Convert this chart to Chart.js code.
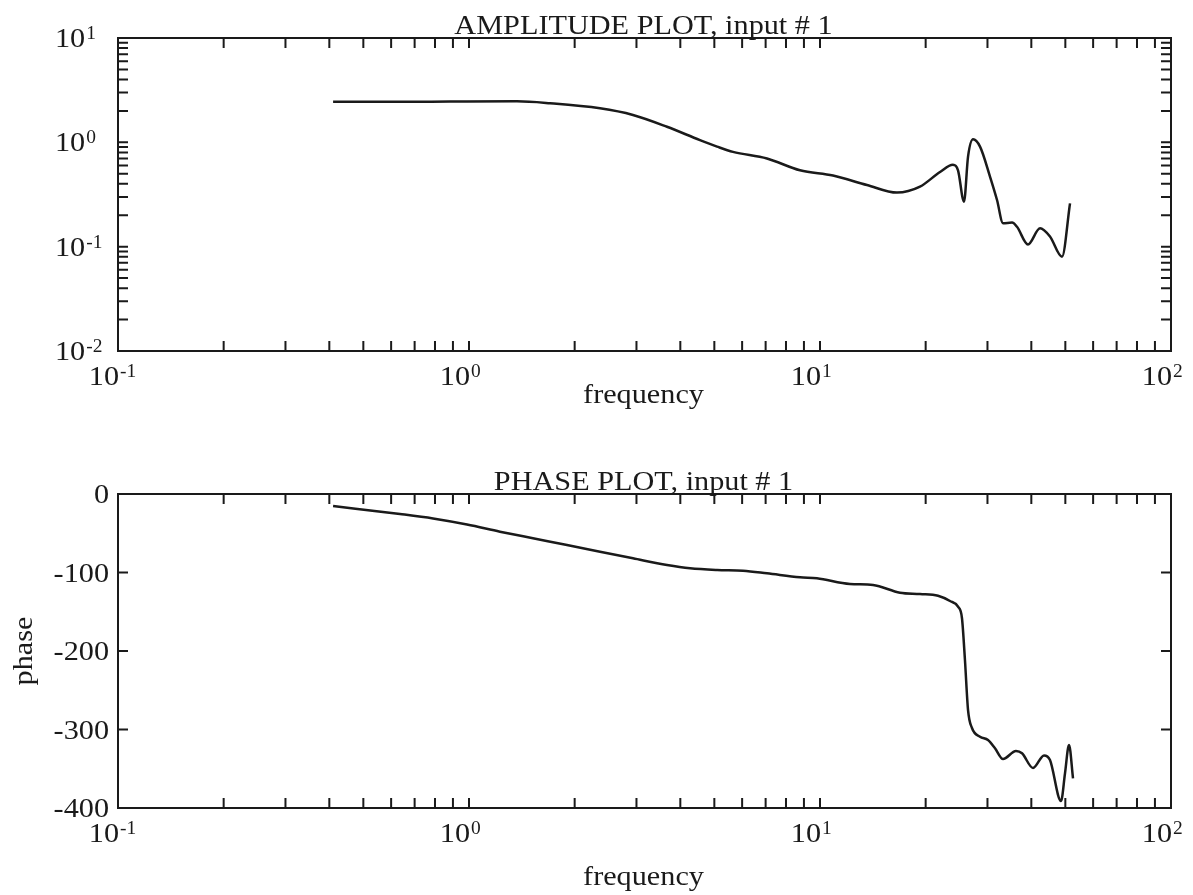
<!DOCTYPE html>
<html>
<head>
<meta charset="utf-8">
<script src="https://cdn.jsdelivr.net/npm/chart.js@4.4.1/dist/chart.umd.min.js"></script>
<style>
html,body{margin:0;padding:0;background:#fff;}
#wrap{position:relative;width:1193px;height:895px;overflow:hidden;}
canvas{position:absolute;left:0;}
</style>
</head>
<body>
<div id="wrap">
<canvas id="amp" width="1193" height="450" style="top:0px"></canvas>
<canvas id="ph" width="1193" height="445" style="top:450px"></canvas>
</div>
<script>
// ---------- data ----------
const ampFreq   = [0.410, 0.636, 0.883, 1.370, 1.701, 2.362, 2.932, 3.665, 4.55, 5.09, 5.65, 7.06, 8.77, 10.89, 13.61, 16.57, 19.27, 21.98, 23.92, 24.73, 25.72, 26.41, 27.29, 28.57, 30.50, 31.94, 33.22, 35.24, 36.41, 39.13, 42.36, 45.21, 48.92, 51.56];
const ampValues = [2.45, 2.45, 2.46, 2.47, 2.37, 2.12, 1.83, 1.41, 1.05, 0.91, 0.81, 0.70, 0.54, 0.48, 0.39, 0.33, 0.376, 0.52, 0.61, 0.54, 0.27, 0.73, 1.07, 0.91, 0.47, 0.28, 0.168, 0.170, 0.155, 0.105, 0.150, 0.125, 0.080, 0.260];

const phaseFreq   = [0.410, 0.636, 0.790, 0.987, 1.225, 1.521, 1.902, 2.362, 2.932, 3.665, 4.263, 5.09, 6.034, 7.06, 8.77, 9.80, 12.17, 14.16, 16.90, 19.27, 21.69, 23.46, 24.73, 25.38, 25.88, 26.41, 27.10, 28.57, 30.10, 31.52, 33.22, 36.17, 37.63, 40.45, 43.48, 45.21, 48.60, 49.89, 51.22, 52.58];
const phaseValues = [-15.3, -25.5, -31.2, -38.9, -48.0, -56.4, -65.0, -73.5, -81.9, -90.4, -94.6, -96.8, -97.7, -101.0, -106.1, -107.4, -114.6, -115.9, -125.7, -127.4, -129.6, -136.3, -143.6, -158.3, -211.5, -275.2, -298.1, -309.2, -313.4, -324.0, -337.6, -327.4, -330.3, -349.0, -333.1, -338.9, -391.1, -355.8, -319.7, -362.2];

const xTickValues  = [0.1, 1, 10, 100];
const xTickExps    = ['-1', '0', '1', '2'];
const ampTickValues = [10, 1, 0.1, 0.01];
const ampTickExps   = ['1', '0', '-1', '-2'];
const phaseTickValues = [0, -100, -200, -300, -400];
const phaseTickLabels = ['0', '-100', '-200', '-300', '-400'];

const ampTitle = 'AMPLITUDE PLOT, input # 1';
const phaseTitle = 'PHASE PLOT, input # 1';
const xAxisTitle = 'frequency';
const phaseAxisTitle = 'phase';

// ---------- drawing helpers ----------
const INK = '#1a1a1a';
const FONT = '"Liberation Serif", "Times New Roman", serif';
const SX = 1.08;     // horizontal stretch of the original lettering
const BIG = 28, SUP = 18;

function textW(ctx, s, size) {
  ctx.font = size + 'px ' + FONT;
  return ctx.measureText(s).width * SX;
}
function txt(ctx, s, x, y, size, align) {
  const w = textW(ctx, s, size);
  let left = x;
  if (align === 'center') left = x - w / 2;
  else if (align === 'right') left = x - w;
  ctx.save();
  ctx.font = size + 'px ' + FONT;
  ctx.textAlign = 'left';
  ctx.textBaseline = 'alphabetic';
  ctx.fillStyle = INK;
  ctx.translate(left, y);
  ctx.scale(SX, 1);
  ctx.fillText(s, 0, 0);
  ctx.restore();
  return w;
}
// "10" with a superscript exponent; baseLeft = left edge of "10"
function pow10(ctx, exp, baseLeft, y) {
  const wb = txt(ctx, '10', baseLeft, y, BIG, 'left');
  txt(ctx, exp, baseLeft + wb + 1, y - 8, SUP, 'left');
}

function decadeTicks(lo, hi) {
  const out = [];
  for (let e = Math.round(Math.log10(lo)); e < Math.round(Math.log10(hi)); e++)
    for (let m = 1; m <= 9; m++) out.push(m * Math.pow(10, e));
  return out.filter(v => v > lo * 1.0001 && v < hi * 0.9999);
}

const axesPlugin = {
  id: 'plotFrame',
  afterDraw(chart, args, o) {
    const {ctx, chartArea: a, scales: {x, y}} = chart;
    const TL = 10;
    ctx.save();
    ctx.strokeStyle = INK;
    ctx.lineWidth = 2;
    ctx.lineCap = 'butt';
    ctx.strokeRect(a.left, a.top, a.right - a.left, a.bottom - a.top);
    ctx.beginPath();
    decadeTicks(x.min, x.max).forEach(v => {
      const px = x.getPixelForValue(v);
      ctx.moveTo(px, a.bottom); ctx.lineTo(px, a.bottom - TL);
      ctx.moveTo(px, a.top); ctx.lineTo(px, a.top + TL);
    });
    const yt = o.logY ? decadeTicks(y.min, y.max) : o.yTicks.filter(v => v > y.min && v < y.max);
    yt.forEach(v => {
      const py = y.getPixelForValue(v);
      ctx.moveTo(a.left, py); ctx.lineTo(a.left + TL, py);
      ctx.moveTo(a.right, py); ctx.lineTo(a.right - TL, py);
    });
    ctx.stroke();
    ctx.restore();

    // x tick labels: "10" ends at the tick
    xTickValues.forEach((v, i) => {
      const px = x.getPixelForValue(v);
      const wb = textW(ctx, '10', BIG);
      pow10(ctx, xTickExps[i], px - wb + 1, a.bottom + 34);
    });
    // y tick labels
    if (o.logY) {
      ampTickValues.forEach((v, i) => {
        const py = y.getPixelForValue(v);
        pow10(ctx, ampTickExps[i], 55, py + 9);
      });
    } else {
      phaseTickValues.forEach((v, i) => {
        const py = y.getPixelForValue(v);
        txt(ctx, phaseTickLabels[i], 109, py + 9, BIG, 'right');
      });
    }
    // titles
    const cx = (a.left + a.right) / 2 - 1;
    txt(ctx, o.title, cx, a.top - 4.5, BIG, 'center');
    txt(ctx, xAxisTitle, cx, a.bottom + o.xTitleGap, BIG, 'center');
    if (o.yTitle) {
      ctx.save();
      ctx.translate(32, (a.top + a.bottom) / 2);
      ctx.rotate(-Math.PI / 2);
      txt(ctx, o.yTitle, 0, 0, BIG, 'center');
      ctx.restore();
    }
  }
};

function makeChart(id, freq, vals, yScale, pad, plotOpts) {
  return new Chart(document.getElementById(id), {
    type: 'line',
    data: {
      datasets: [{
        data: freq.map((f, i) => ({x: f, y: vals[i]})),
        borderColor: INK,
        borderWidth: 2.5,
        pointRadius: 0,
        fill: false,
        cubicInterpolationMode: 'monotone'
      }]
    },
    options: {
      responsive: false,
      animation: false,
      events: [],
      layout: {padding: pad},
      plugins: {legend: {display: false}, tooltip: {enabled: false}, title: {display: false}, plotFrame: plotOpts},
      scales: {
        x: {type: 'logarithmic', min: 0.1, max: 100, display: false},
        y: Object.assign({display: false}, yScale)
      }
    },
    plugins: [axesPlugin]
  });
}

makeChart('amp', ampFreq, ampValues,
  {type: 'logarithmic', min: 0.01, max: 10},
  {left: 118, right: 22, top: 38, bottom: 99},
  {logY: true, title: ampTitle, xTitleGap: 52});

makeChart('ph', phaseFreq, phaseValues,
  {type: 'linear', min: -400, max: 0},
  {left: 118, right: 22, top: 44, bottom: 87},
  {logY: false, yTicks: phaseTickValues, title: phaseTitle, xTitleGap: 77, yTitle: phaseAxisTitle});
</script>
</body>
</html>
